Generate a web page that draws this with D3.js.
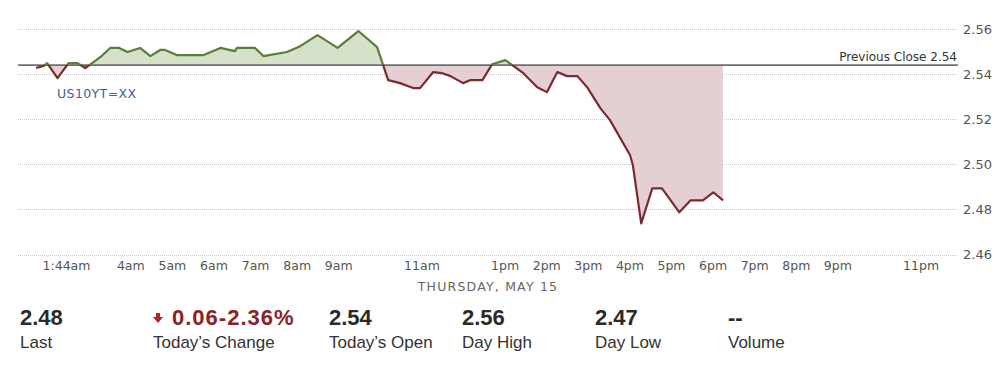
<!DOCTYPE html>
<html>
<head>
<meta charset="utf-8">
<script src="https://cdn.jsdelivr.net/npm/d3@7"></script>
<style>
  body { margin: 0; background: #fff; }
  svg { display: block; }
</style>
</head>
<body>
<svg width="1005" height="375"></svg>
<script>
// intraday quotes, May 15 (time of day, yield)
var times = ["1:44","1:55","2:00","2:15","2:31","2:44","2:55","3:05","3:17","3:31","3:44","3:56",
  "4:14","4:29","4:43","4:50","5:08","5:45","6:10","6:31","6:34","7:00","7:12","7:46",
  "8:05","8:30","8:59","9:29","9:56","10:12","10:29","10:48","10:58","11:17","11:30","11:42",
  "12:00","12:10","12:28","12:42","13:01","13:11","13:27","13:47","14:01","14:16","14:30","14:45",
  "14:59","15:18","15:32","16:01","16:05","16:17","16:33","16:47","17:12","17:28","17:46","18:01","18:15"];
var yields = [2.5427,2.5436,2.5449,2.5382,2.5449,2.5449,2.5427,2.5449,2.5476,2.5516,2.5516,2.5498,
  2.5516,2.5480,2.5507,2.5507,2.5484,2.5484,2.5516,2.5502,2.5516,2.5516,2.5480,2.5498,
  2.5524,2.5573,2.5516,2.5591,2.5520,2.5373,2.5360,2.5338,2.5338,2.5409,2.5404,2.5391,
  2.5360,2.5373,2.5373,2.5444,2.5462,2.5440,2.5404,2.5342,2.5320,2.5409,2.5391,2.5391,
  2.5342,2.5249,2.5196,2.5040,2.4996,2.4738,2.4893,2.4893,2.4787,2.4840,2.4840,2.4876,2.4840];
var previousClose = 2.544;

var xTickTimes = ["1:44","4:00","5:00","6:00","7:00","8:00","9:00","11:00","13:00","14:00","15:00",
  "16:00","17:00","18:00","19:00","20:00","21:00","23:00"];
var xTickLabels = ["1:44am","4am","5am","6am","7am","8am","9am","11am","1pm","2pm","3pm",
  "4pm","5pm","6pm","7pm","8pm","9pm","11pm"];
var yTicks = [2.46, 2.48, 2.50, 2.52, 2.54, 2.56];

var statValues = ["2.48", "0.06-2.36%", "2.54", "2.56", "2.47", "--"];
var statLabels = ["Last", "Today\u2019s Change", "Today\u2019s Open", "Day High", "Day Low", "Volume"];

var parseTime = d3.timeParse('%Y-%m-%d %H:%M');
function toDate(t) { return parseTime('2014-05-15 ' + t); }

var data = times.map(function(t, i) { return {date: toDate(t), value: yields[i]}; });

var svg = d3.select('svg');
var plotLeft = 18, plotRight = 958, plotTop = 29, plotBottom = 254.5;

var x = d3.scaleTime().domain([toDate('1:18'), toDate('23:54')]).range([plotLeft, plotRight]);
var y = d3.scaleLinear().domain([2.46, 2.56]).range([plotBottom, plotTop]);
var baseY = y(previousClose);

var chartFont = '"DejaVu Sans", Verdana, sans-serif';

// grid lines
svg.append('g')
  .selectAll('line')
  .data(yTicks)
  .enter().append('line')
  .attr('x1', plotLeft).attr('x2', plotRight)
  .attr('y1', function(d) { return Math.round(y(d)) + 0.5; })
  .attr('y2', function(d) { return Math.round(y(d)) + 0.5; })
  .attr('stroke', '#c8c8c8')
  .attr('stroke-dasharray', '1,1');

// clips above / below previous close
var defs = svg.append('defs');
defs.append('clipPath').attr('id', 'above')
  .append('rect').attr('x', 0).attr('y', 0).attr('width', 1005).attr('height', baseY);
defs.append('clipPath').attr('id', 'below')
  .append('rect').attr('x', 0).attr('y', baseY).attr('width', 1005).attr('height', 375 - baseY);

var area = d3.area()
  .x(function(d) { return x(d.date); })
  .y0(baseY)
  .y1(function(d) { return y(d.value); });
var line = d3.line()
  .x(function(d) { return x(d.date); })
  .y(function(d) { return y(d.value); });

svg.append('path').datum(data).attr('d', area)
  .attr('clip-path', 'url(#above)').attr('fill', '#d6e1ca');
svg.append('path').datum(data).attr('d', area)
  .attr('clip-path', 'url(#below)').attr('fill', '#e4d0d2');

// previous close line
svg.append('line')
  .attr('x1', plotLeft).attr('x2', plotRight)
  .attr('y1', baseY).attr('y2', baseY)
  .attr('stroke', '#6f6f6f').attr('stroke-width', 1.6);

svg.append('path').datum(data).attr('d', line)
  .attr('clip-path', 'url(#above)')
  .attr('fill', 'none').attr('stroke', '#5a7d3a').attr('stroke-width', 2.2)
  .attr('stroke-linejoin', 'round');
svg.append('path').datum(data).attr('d', line)
  .attr('clip-path', 'url(#below)')
  .attr('fill', 'none').attr('stroke', '#7b2a30').attr('stroke-width', 2.2)
  .attr('stroke-linejoin', 'round');

svg.append('text')
  .attr('x', plotRight - 1).attr('y', baseY - 4)
  .attr('text-anchor', 'end')
  .style('font-family', chartFont).style('font-size', '12px')
  .attr('fill', '#333')
  .text('Previous Close 2.54');

svg.append('text')
  .attr('x', 57).attr('y', 98)
  .style('font-family', chartFont).style('font-size', '12.5px')
  .style('letter-spacing', '0.4px')
  .attr('fill', '#40609a')
  .text('US10YT=XX');

// y axis
var yAxis = svg.append('g')
  .attr('transform', 'translate(' + plotRight + ',0)')
  .call(d3.axisRight(y).tickValues(yTicks).tickFormat(d3.format('.2f')).tickSize(0).tickPadding(5));
yAxis.select('.domain').remove();
yAxis.selectAll('text')
  .style('font-family', chartFont).style('font-size', '13px').attr('fill', '#555');

// x axis
var xAxis = svg.append('g')
  .attr('transform', 'translate(0,' + 258 + ')')
  .call(d3.axisBottom(x)
    .tickValues(xTickTimes.map(toDate))
    .tickFormat(function(d, i) { return xTickLabels[i]; })
    .tickSize(0).tickPadding(3));
xAxis.select('.domain').remove();
xAxis.selectAll('text')
  .style('font-family', chartFont).style('font-size', '12.5px').attr('fill', '#555');
xAxis.selectAll('.tick').filter(function(d, i) { return i === 0; })
  .select('text').attr('text-anchor', 'start').attr('dx', 6);

svg.append('text')
  .attr('x', (plotLeft + plotRight) / 2).attr('y', 291)
  .attr('text-anchor', 'middle')
  .style('font-family', chartFont).style('font-size', '12.5px')
  .style('letter-spacing', '1.2px')
  .attr('fill', '#666')
  .text('THURSDAY, MAY 15');

// stats row
var statX = [20, 153, 329, 462, 595, 728];
var stats = svg.append('g').style('font-family', '"Liberation Sans", Arial, sans-serif');
stats.selectAll('.val')
  .data(statValues)
  .enter().append('text')
  .attr('class', 'val')
  .attr('x', function(d, i) { return i === 1 ? statX[i] + 19 : statX[i]; })
  .attr('y', 325)
  .style('font-size', '22px').style('font-weight', 'bold')
  .style('letter-spacing', function(d, i) { return i === 1 ? '1px' : '0px'; })
  .attr('fill', function(d, i) { return i === 1 ? '#8a2226' : '#2a2a2a'; })
  .text(function(d) { return d; });
stats.selectAll('.lbl')
  .data(statLabels)
  .enter().append('text')
  .attr('class', 'lbl')
  .attr('x', function(d, i) { return statX[i]; })
  .attr('y', 348)
  .style('font-size', '17px')
  .attr('fill', '#333')
  .text(function(d) { return d; });

// down arrow in front of the change
svg.append('path')
  .attr('d', 'M156,313 h4 v4 h3 l-5,6 l-5,-6 h3 z')
  .attr('fill', '#b02525');
</script>
</body>
</html>
